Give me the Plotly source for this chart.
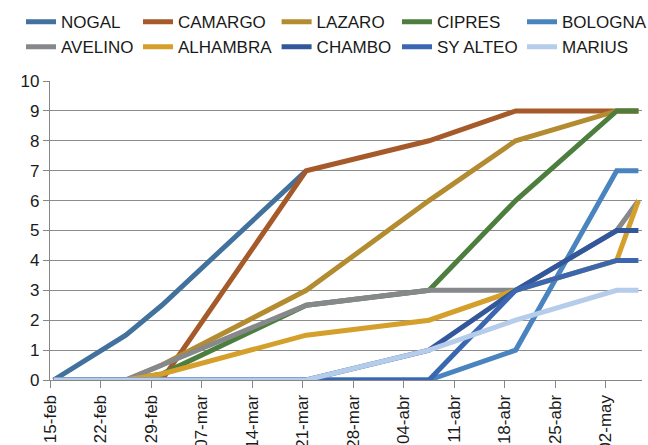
import pandas as pd
import plotly.graph_objects as go

# ---- data ----
dates = ["2016-02-15", "2016-02-25", "2016-03-01", "2016-03-21",
         "2016-04-07", "2016-04-19", "2016-05-03", "2016-05-06"]

NOGAL    = [0, 1.5, 2.5, 7, None, None, None, None]
CAMARGO  = [0, 0, 0, 7, 8, 9, 9, 9]
LAZARO   = [0, 0, 0.5, 3, 6, 8, 9, 9]
CIPRES   = [0, 0, 0.2, 2.5, 3, 6, 9, 9]
BOLOGNA  = [0, 0, 0, 0, 0, 1, 7, 7]
AVELINO  = [0, 0, 0.5, 2.5, 3, 3, 5, 6]
ALHAMBRA = [0, 0, 0.2, 1.5, 2, 3, 4, 6]
CHAMBO   = [0, 0, 0, 0, 1, 3, 5, 5]
SY_ALTEO = [0, 0, 0, 0, 0, 3, 4, 4]
MARIUS   = [0, 0, 0, 0, 1, 2, 3, 3]

series_names = ["NOGAL", "CAMARGO", "LAZARO", "CIPRES", "BOLOGNA",
                "AVELINO", "ALHAMBRA", "CHAMBO", "SY ALTEO", "MARIUS"]
series_values = [NOGAL, CAMARGO, LAZARO, CIPRES, BOLOGNA,
                 AVELINO, ALHAMBRA, CHAMBO, SY_ALTEO, MARIUS]
colors = ["#41719C", "#A65A2A", "#B38B30", "#4E7E3E", "#4A84BE",
          "#86888C", "#D49F2B", "#32579A", "#3B67B0", "#B5CCEA"]

tick_labels = ["15-feb", "22-feb", "29-feb", "07-mar", "14-mar", "21-mar",
               "28-mar", "04-abr", "11-abr", "18-abr", "25-abr", "02-may"]
tick_start = "2016-02-15"
axis_end = "2016-05-07"

# Excel date axis: points sit in the middle of each day slot, ticks at slot start
half_day = pd.Timedelta(hours=12)
tick_vals = pd.date_range(tick_start, periods=len(tick_labels), freq="7D") - half_day
x_range = [pd.Timestamp(tick_start) - half_day, pd.Timestamp(axis_end) - half_day]

FONT = "Liberation Sans"
TXT = "#1a1a1a"

fig = go.Figure()
for i, (name, vals, col) in enumerate(zip(series_names, series_values, colors)):
    column = i % 5
    leg = "legend" if column == 0 else f"legend{column + 1}"
    fig.add_trace(go.Scatter(
        x=pd.to_datetime(dates), y=vals, name=name, mode="lines",
        line=dict(color=col, width=5), legend=leg, connectgaps=False,
        hoverinfo="skip"))

legend_text_x = [61, 178, 316.6, 437, 562]
legend_common = dict(xref="container", yref="container", xanchor="left",
                     yanchor="top", y=1 - 4.2 / 445, orientation="v",
                     font=dict(family=FONT, size=17, color=TXT),
                     bgcolor="rgba(0,0,0,0)", itemwidth=30,
                     traceorder="normal", tracegroupgap=0)
legends = {}
for c, tx in enumerate(legend_text_x):
    key = "legend" if c == 0 else f"legend{c + 1}"
    legends[key] = dict(legend_common, x=(tx - 40) / 648)

fig.update_layout(
    width=648, height=445,
    margin=dict(l=50, r=6, t=81, b=65, autoexpand=False),
    paper_bgcolor="white", plot_bgcolor="white",
    showlegend=True,
    font=dict(family=FONT, size=17, color=TXT),
    **legends,
    xaxis=dict(
        type="date", range=x_range, tickmode="array",
        tickvals=tick_vals, ticktext=tick_labels, tickangle=-90,
        showgrid=False, zeroline=False, showline=True,
        linecolor="#868686", linewidth=1.3,
        ticks="outside", ticklen=7, tickcolor="#868686", tickwidth=1.3,
        tickfont=dict(family=FONT, size=17, color=TXT), automargin=False),
    yaxis=dict(
        range=[0, 10], tickmode="linear", tick0=0, dtick=1,
        showgrid=True, gridcolor="#8c8c8c", gridwidth=1.2,
        zeroline=False, showline=True, linecolor="#868686", linewidth=1.3,
        ticks="outside", ticklen=6, tickcolor="#868686", tickwidth=1.3,
        tickfont=dict(family=FONT, size=17, color=TXT), automargin=False),
)

fig.write_html("out.html")
